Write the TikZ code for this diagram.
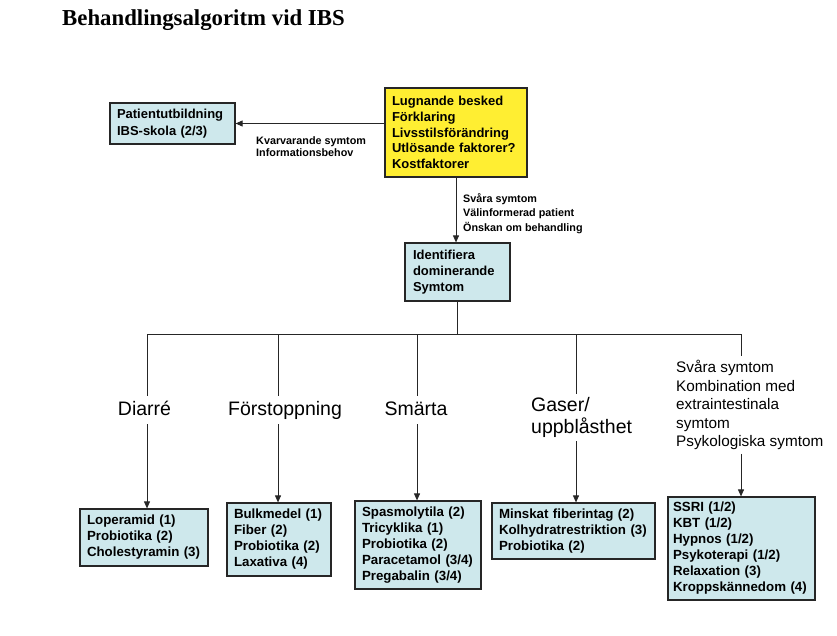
\documentclass[tikz,border=0pt]{standalone}
\usepackage{fontspec}
\setmainfont{Liberation Sans}
\newfontfamily\titlefont{Liberation Serif}
\usetikzlibrary{arrows.meta}
\definecolor{boxblue}{RGB}{206,232,236}
\definecolor{boxyellow}{RGB}{255,238,50}
\begin{document}
\begin{tikzpicture}[x=1pt,y=-1pt,
 bx/.style={draw=black!85, line width=1.2pt, fill=boxblue, align=left, inner xsep=7pt, inner ysep=2pt, font=\fontsize{13.3}{16}\selectfont\bfseries},
 cat/.style={font=\fontsize{19.5}{22.5}\selectfont, text height=14pt, text depth=4pt, inner xsep=0pt, inner ysep=5pt},
 lab/.style={font=\fontsize{10.8}{12}\selectfont\bfseries, align=left, inner sep=0pt, anchor=west},
 con/.style={line width=0.9pt, draw=black!85},
 arr/.style={con, -{Triangle[length=7pt,width=6pt]}}
]
\useasboundingbox (0,0) rectangle (837,636);
\fill[white] (0,0) rectangle (837,636);

\node[anchor=base west, inner sep=0pt, font=\titlefont\fontsize{22.8}{26}\selectfont\bfseries] (title) at (62,26) {Behandlingsalgoritm vid IBS};

\node[bx, fill=boxyellow, text width=128pt, minimum height=89pt, font=\fontsize{13}{15.7}\selectfont\bfseries] (yel) at (456,132.5)
 {Lugnande besked\\Förklaring\\Livsstilsförändring\\Utlösande faktorer?\\Kostfaktorer};
\node[bx, text width=111pt, minimum height=41pt, font=\fontsize{13}{17.5}\selectfont\bfseries] (pat) at (172.5,123.5)
 {Patientutbildning\\IBS-skola (2/3)};
\node[bx, text width=89pt, minimum height=58pt, inner xsep=8pt, font=\fontsize{13}{15.7}\selectfont\bfseries] (ident) at (457.5,272)
 {Identifiera\\dominerande\\Symtom};

\node[lab] (kv) at (256,147) {Kvarvarande symtom\\Informationsbehov};
\node[lab, font=\fontsize{10.8}{14.5}\selectfont\bfseries] (sv) at (463,213.5) {Svåra symtom\\Välinformerad patient\\Önskan om behandling};

\draw[arr] (yel.west |- pat.east) -- (pat.east);
\draw[arr] (yel.south) -- (yel.south |- ident.north);

% categories
\node[cat] (dia) at (144.5,410) {Diarré};
\node[cat] (for) at (285,410) {Förstoppning};
\node[cat] (sma) at (416,410) {Smärta};
\node[cat, align=left, anchor=west, text height=, text depth=, inner ysep=3pt] (gas) at (531,417.5) {Gaser/\\uppblåsthet};
\node[align=left, anchor=west, inner xsep=0pt, inner ysep=4pt, font=\fontsize{15.3}{18.5}\selectfont] (sev) at (676,405)
 {Svåra symtom\\Kombination med\\extraintestinala\\symtom\\Psykologiska symtom};

% bottom boxes
\node[bx, text width=114pt, minimum height=57pt] (b1) at (144,537.5)
 {Loperamid (1)\\Probiotika (2)\\Cholestyramin (3)};
\node[bx, text width=90pt, minimum height=73pt] (b2) at (279,539.5)
 {Bulkmedel (1)\\Fiber (2)\\Probiotika (2)\\Laxativa (4)};
\node[bx, text width=112pt, minimum height=88pt] (b3) at (418,545)
 {Spasmolytila (2)\\Tricyklika (1)\\Probiotika (2)\\Paracetamol (3/4)\\Pregabalin (3/4)};
\node[bx, text width=149pt, minimum height=56pt] (b4) at (573.5,531)
 {Minskat fiberintag (2)\\Kolhydratrestriktion (3)\\Probiotika (2)};
\node[bx, text width=137pt, inner xsep=5pt, minimum height=103pt] (b5) at (741.5,548.5)
 {SSRI (1/2)\\KBT (1/2)\\Hypnos (1/2)\\Psykoterapi (1/2)\\Relaxation (3)\\Kroppskännedom (4)};

% tree
\coordinate (j1) at (147,334);
\coordinate (j2) at (278,334);
\coordinate (j3) at (417,334);
\coordinate (j4) at (576,334);
\coordinate (j5) at (741,334);
\draw[con] (ident.south) -- (ident.south |- j1);
\draw[con] (j1) -- (j5);
\draw[con] (j1) -- (j1 |- dia.north);
\draw[con] (j2) -- (j2 |- for.north);
\draw[con] (j3) -- (j3 |- sma.north);
\draw[con] (j4) -- (j4 |- gas.north);
\draw[con] (j5) -- (j5 |- sev.north);
\draw[arr] (j1 |- dia.south) -- (j1 |- b1.north);
\draw[arr] (j2 |- for.south) -- (j2 |- b2.north);
\draw[arr] (j3 |- sma.south) -- (j3 |- b3.north);
\draw[arr] (j4 |- gas.south) -- (j4 |- b4.north);
\draw[arr] (j5 |- sev.south) -- (j5 |- b5.north);
\end{tikzpicture}
\end{document}
